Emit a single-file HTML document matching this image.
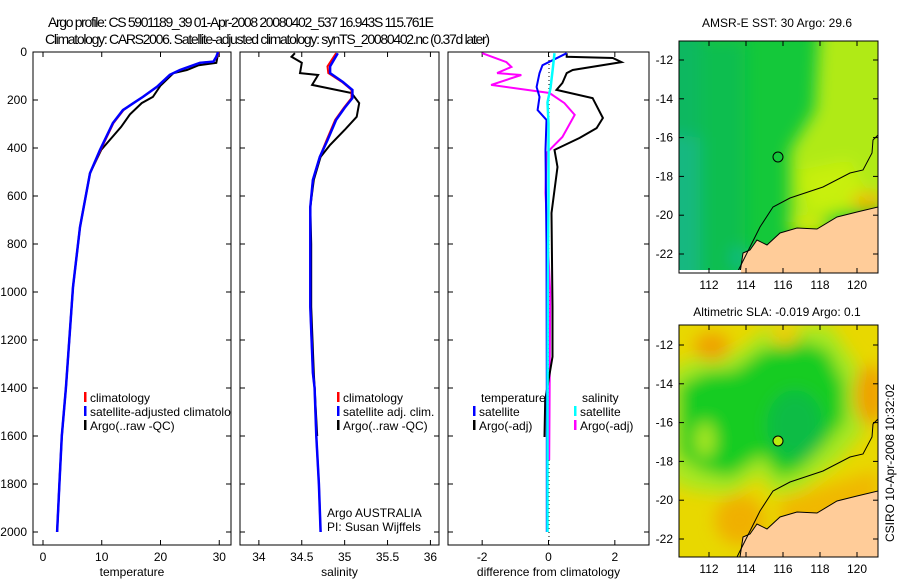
<!DOCTYPE html>
<html><head><meta charset="utf-8"><style>
body{margin:0;background:#fff;}
svg{display:block;font-family:"Liberation Sans",sans-serif;}
</style></head><body>
<svg id="c" width="900" height="580" viewBox="0 0 900 580" xmlns="http://www.w3.org/2000/svg">
<defs>
<clipPath id="cp1"><rect x="33" y="52" width="198" height="493"/></clipPath>
<clipPath id="cp2"><rect x="240" y="52" width="199" height="493"/></clipPath>
<clipPath id="cp3"><rect x="448" y="52" width="201" height="493"/></clipPath>
<clipPath id="cm1"><rect x="679" y="41" width="199" height="232"/></clipPath>
<clipPath id="cm2"><rect x="679" y="325" width="199" height="232"/></clipPath>
<filter id="bl" x="-50%" y="-50%" width="200%" height="200%"><feGaussianBlur stdDeviation="8"/></filter>
</defs>
<text x="48" y="27" font-size="14" textLength="386">Argo profile: CS 5901189_39 01-Apr-2008 20080402_537 16.943S 115.761E</text>
<text x="45" y="44" font-size="14" textLength="445">Climatology: CARS2006. Satellite-adjusted climatology: synTS_20080402.nc (0.37d later)</text>

<!-- Top map -->
<g>
<g clip-path="url(#cm1)">
<rect x="679" y="41" width="199" height="232" fill="#14c83a"/>
<g filter="url(#bl)">
<rect x="650" y="30" width="55" height="120" fill="#10b860"/>
<polygon points="650,130 715,140 735,200 730,300 650,300" fill="#12b880"/>
<rect x="700" y="40" width="45" height="250" fill="#0fbe50"/>
<polygon points="820,20 910,20 910,210 850,215 790,225 790,150 815,110" fill="#b0ea18"/>
<polygon points="800,170 850,160 870,200 810,215" fill="#c8f008"/>
<ellipse cx="868" cy="202" rx="16" ry="9" fill="#f2b000"/>
<ellipse cx="810" cy="228" rx="22" ry="8" fill="#dce800"/>
<ellipse cx="740" cy="258" rx="8" ry="10" fill="#18b890"/>
</g>
<polygon points="740,273 743,253 750,250 757,240 767,245 780,233 797,228 817,229 837,217 857,212 878,207 878,273" fill="#ffcc99" stroke="#000" stroke-width="1"/>
<polyline points="737,273 750,247 760,227 773,207 790,198 823,187 850,173 863,170 872,153 873,140 878,135" fill="none" stroke="#000" stroke-width="1"/>
<rect x="679" y="270" width="62" height="3" fill="#fff"/>
</g>
<rect x="679" y="41" width="199" height="232" fill="none" stroke="#000"/>
<circle cx="778" cy="157" r="5" fill="#14c83a" stroke="#000"/>
<text x="777" y="27" font-size="12" text-anchor="middle">AMSR-E SST: 30 Argo: 29.6</text>
</g>

<!-- Bottom map -->
<g>
<g clip-path="url(#cm2)">
<rect x="679" y="325" width="199" height="232" fill="#e8d800"/>
<g filter="url(#bl)">
<polygon points="670,370 700,355 740,350 770,325 830,325 860,370 865,430 840,460 800,490 775,495 760,475 730,495 690,490 670,480" fill="#a8e820"/>
<polygon points="679,385 705,372 735,370 762,350 800,340 828,350 845,385 845,420 825,445 800,470 780,478 762,455 730,478 700,470 679,455" fill="#14cc24"/>
<ellipse cx="795" cy="425" rx="28" ry="35" fill="#10bc44"/>
<ellipse cx="712" cy="347" rx="18" ry="14" fill="#f0a000"/>
<ellipse cx="785" cy="336" rx="15" ry="10" fill="#f0cc00"/>
<ellipse cx="870" cy="395" rx="15" ry="30" fill="#f0a000"/>
<ellipse cx="740" cy="520" rx="25" ry="25" fill="#f0b000"/>
<polygon points="780,500 878,470 878,520 780,530" fill="#f0b800"/>
<ellipse cx="705" cy="440" rx="10" ry="18" fill="#a8e820"/>
</g>
<polygon points="740,557 743,537 750,534 757,524 767,529 780,517 797,512 817,513 837,501 857,496 878,491 878,557" fill="#ffcc99" stroke="#000" stroke-width="1"/>
<polyline points="737,557 750,531 760,511 773,491 790,482 823,471 850,457 863,454 872,437 873,424 878,419" fill="none" stroke="#000" stroke-width="1"/>
</g>
<rect x="679" y="325" width="199" height="232" fill="none" stroke="#000"/>
<circle cx="778" cy="441" r="5" fill="#b8ec10" stroke="#000"/>
<text x="777" y="316" font-size="12" text-anchor="middle">Altimetric SLA: -0.019 Argo: 0.1</text>
</g>
<text transform="translate(894,463) rotate(-90)" font-size="12" text-anchor="middle">CSIRO 10-Apr-2008 10:32:02</text>
<g id="dyn"></g>
</svg>
<script>
// depth axis
const depthTicks=[0,200,400,600,800,1000,1200,1400,1600,1800,2000];
// temperature panel
const tempTicks=[0,10,20,30];
const tDepth=[0,20,40,45,60,75,95,145,187,213,242,296,408,505,729,979,1400,1600,1800,2000];
const tClim=[29.9,29.6,29.0,26.7,25.0,23.3,21.6,19.4,17.0,15.4,13.7,12.0,9.8,8.0,6.3,5.1,3.9,3.2,2.8,2.4];
const tSat=[29.8,29.5,29.0,26.7,25.0,23.3,21.6,19.4,17.0,15.4,13.6,11.9,9.7,8.0,6.3,5.1,3.9,3.2,2.8,2.4];
const tArgoDepth=[0,20,45,55,75,88,140,187,213,260,312,408,505,729,979,1400,1600,1800,2000];
const tArgo=[29.8,29.7,29.5,26.5,24.5,22.2,20.0,18.7,16.8,14.8,13.3,9.9,8.0,6.3,5.1,3.9,3.2,2.8,2.4];
// salinity panel
const salTicks=[34,34.5,35,35.5,36];
const sDepth=[5,60,88,125,158,192,233,283,367,437,533,646,1062,1337,1400,1600,1800,2000];
const sClim=[34.9,34.8,34.81,34.97,35.08,35.08,34.99,34.89,34.79,34.71,34.63,34.6,34.6,34.63,34.65,34.67,34.7,34.72];
const sSat=[34.92,34.83,34.83,34.98,35.09,35.09,35.0,34.9,34.8,34.71,34.63,34.6,34.6,34.63,34.65,34.67,34.7,34.72];
const sArgoDepth=[5,20,45,88,96,137,171,213,270,325,387,437,533,646,800,1062,1337,1600];
const sArgo=[34.42,34.38,34.5,34.48,34.69,34.62,35.08,35.17,35.14,35.0,34.83,34.72,34.64,34.6,34.61,34.61,34.64,34.68];
// difference panel
const diffTicks=[-2,0,2];
const dTSatDepth=[5,55,88,146,187,242,283,408,800,1400,2000];
const dTSat=[0.55,-0.18,-0.27,-0.36,-0.27,-0.33,-0.06,-0.09,-0.06,-0.05,-0.05];
const dTArgoDepth=[5,20,25,42,75,88,129,158,192,275,317,358,408,479,575,671,1062,1270,1450,1604];
const dTArgo=[0.55,0.55,1.94,2.2,0.73,0.55,0.42,0.24,1.33,1.64,1.45,0.94,0.18,0.27,0.18,0.09,0.12,0.12,-0.1,-0.12];
const dSSatDepth=[5,80,150,210,300,600,1000,1500,2000];
const dSSat=[0.18,0.12,0.06,-0.03,0.0,0.0,-0.02,-0.03,-0.03];
const dSArgoDepth=[5,42,62,88,96,137,171,213,262,354,421,587,1000,1500,1700];
const dSArgo=[-2.0,-1.27,-1.12,-1.55,-0.82,-1.73,0.03,0.48,0.79,0.42,-0.06,-0.09,0.05,0.03,0.02];

const NS='http://www.w3.org/2000/svg';
const root=document.getElementById('dyn');
function mk(tag,attrs,parent){const e=document.createElementNS(NS,tag);for(const k in attrs)e.setAttribute(k,attrs[k]);(parent||root).appendChild(e);return e;}
const yD=d=>52+d*0.24;
const panels=[
 {x0:33,x1:231,vmin:-1.7,vmax:32,ticks:tempTicks,label:'temperature',clip:'cp1',name:'temperature'},
 {x0:240,x1:439,vmin:33.78,vmax:36.1,ticks:salTicks,label:'salinity',clip:'cp2',name:'salinity'},
 {x0:448,x1:649,vmin:-3.03,vmax:3.03,ticks:diffTicks,label:'difference from climatology',clip:'cp3',name:'difference'}
];
panels.forEach(p=>{p.sx=v=>p.x0+(v-p.vmin)/(p.vmax-p.vmin)*(p.x1-p.x0);});

panels.forEach((p,i)=>{
 const g=mk('g',{});
 
 
 const fr=mk('rect',{x:p.x0,y:52,width:p.x1-p.x0,height:493,fill:'#fff',stroke:'#000','stroke-width':1},g);
 
 
 depthTicks.forEach(d=>{
  const y=yD(d);
  mk('line',{x1:p.x0,x2:p.x0+5,y1:y,y2:y,stroke:'#000'},g);
  mk('line',{x1:p.x1,x2:p.x1-5,y1:y,y2:y,stroke:'#000'},g);
  if(i===0){const t=mk('text',{x:27,y:y+4,'font-size':12,'text-anchor':'end'},g);t.textContent=d;
   
   }
 });
 p.ticks.forEach(v=>{
  const x=p.sx(v);
  mk('line',{x1:x,x2:x,y1:545,y2:540,stroke:'#000'},g);
  mk('line',{x1:x,x2:x,y1:52,y2:57,stroke:'#000'},g);
  const t=mk('text',{x:x,y:561,'font-size':12,'text-anchor':'middle'},g);t.textContent=v;
  
  
 });
 const at=mk('text',{x:(p.x0+p.x1)/2,y:576,'font-size':12,'text-anchor':'middle'},g);at.textContent=p.label;
 
 
 p.g=g;
});

function line(p,vals,depths,color,w,name){
 const pts=vals.map((v,k)=>p.sx(v).toFixed(1)+','+yD(depths[k]).toFixed(1)).join(' ');
 const l=mk('polyline',{points:pts,fill:'none',stroke:color,'stroke-width':w,'clip-path':'url(#'+p.clip+')','stroke-linejoin':'miter'},p.g);
 
 
}
line(panels[0],tArgo,tArgoDepth,'#000',2,'temperature-argo-line');
line(panels[0],tClim,tDepth,'#f00',2,'temperature-climatology-line');
line(panels[0],tSat,tDepth,'#00f',2.5,'temperature-satellite-line');
line(panels[1],sArgo,sArgoDepth,'#000',2,'salinity-argo-line');
line(panels[1],sClim,sDepth,'#f00',2,'salinity-climatology-line');
line(panels[1],sSat,sDepth,'#00f',2.5,'salinity-satellite-line');
mk('line',{x1:549,x2:549,y1:52,y2:545,stroke:'#000','stroke-dasharray':'1,3'},panels[2].g);
line(panels[2],dSArgo,dSArgoDepth,'#f0f',2,'salinity-argo-diff-line');
line(panels[2],dTArgo,dTArgoDepth,'#000',2,'temperature-argo-diff-line');
line(panels[2],dTSat,dTSatDepth,'#00f',2,'temperature-satellite-diff-line');
line(panels[2],dSSat,dSSatDepth,'#0ff',2.5,'salinity-satellite-diff-line');

function legend(g,x,y,color,text,name,clipId){
 if(color) mk('rect',{x:x,y:y-10,width:2.5,height:10,fill:color},g);
 const t=mk('text',{x:x+6,y:y,'font-size':12},g);t.textContent=text;
 if(clipId) t.setAttribute('clip-path','url(#'+clipId+')');
 
 
}
legend(panels[0].g,84,402,'#f00','climatology','legend-climatology');
legend(panels[0].g,84,416,'#00f','satellite-adjusted climatology','legend-satellite-adjusted','cp1');
legend(panels[0].g,84,430,'#000','Argo(..raw -QC)','legend-argo');
legend(panels[1].g,337,402,'#f00','climatology','legend-sal-climatology');
legend(panels[1].g,337,416,'#00f','satellite adj. clim.','legend-sal-satellite');
legend(panels[1].g,337,430,'#000','Argo(..raw -QC)','legend-sal-argo');
legend(panels[1].g,321,517,null,'Argo AUSTRALIA','credit-argo-australia');
legend(panels[1].g,321,531,null,'PI: Susan Wijffels','credit-pi');
legend(panels[2].g,475,402,null,'temperature','legend-temperature-header');
legend(panels[2].g,473,416,'#00f','satellite','legend-temp-satellite');
legend(panels[2].g,473,430,'#000','Argo(-adj)','legend-temp-argo');
legend(panels[2].g,576,402,null,'salinity','legend-salinity-header');
legend(panels[2].g,574,416,'#0ff','satellite','legend-sal-sat-diff');
legend(panels[2].g,574,430,'#f0f','Argo(-adj)','legend-sal-argo-diff');

// map axes
function mapAxes(top,bottom,latTop,name){
 const g=mk('g',{});
 
 
 const lats=[-12,-14,-16,-18,-20,-22];
 const lons=[112,114,116,118,120];
 lats.forEach(la=>{const y=latTop+(-12-la)*19.4;
  mk('line',{x1:679,x2:684,y1:y,y2:y,stroke:'#000'},g);mk('line',{x1:878,x2:873,y1:y,y2:y,stroke:'#000'},g);
  const t=mk('text',{x:673,y:y+4,'font-size':12,'text-anchor':'end'},g);t.textContent=la;
  
  });
 lons.forEach(lo=>{const x=709+(lo-112)*18.5;
  mk('line',{x1:x,x2:x,y1:top,y2:top+5,stroke:'#000'},g);mk('line',{x1:x,x2:x,y1:bottom,y2:bottom-5,stroke:'#000'},g);
  const t=mk('text',{x:x,y:bottom+16,'font-size':12,'text-anchor':'middle'},g);t.textContent=lo;
  
  });
}
mapAxes(41,273,60,'sst-map');
mapAxes(325,557,345,'sla-map');
</script>
</body></html>
